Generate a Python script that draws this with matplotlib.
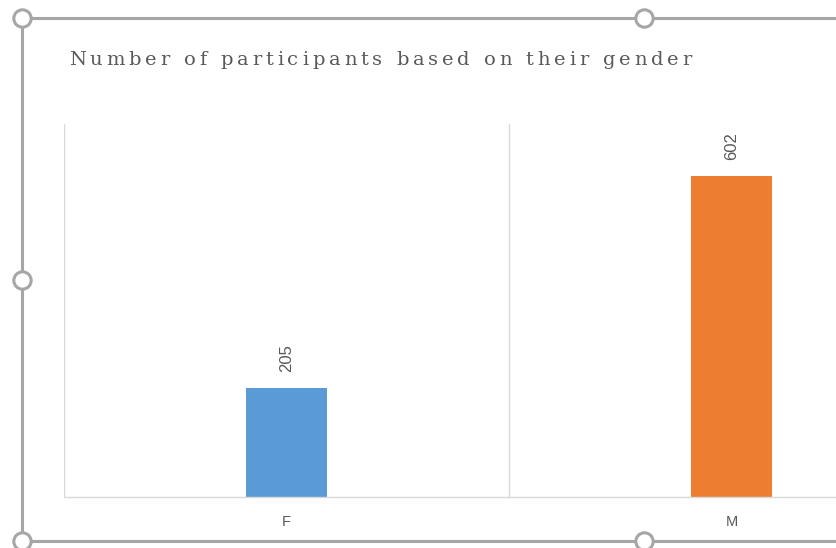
import matplotlib.pyplot as plt
from matplotlib.lines import Line2D
from matplotlib import font_manager
from matplotlib.ft2font import FT2Font

# Participant counts by gender
genders = ['F', 'M']
counts = [205, 602]
bar_colors = ['#5B9BD5', '#ED7D31']
title = 'Number of participants based on their gender'

W, H = 836, 548
fig = plt.figure(figsize=(W / 100, H / 100), dpi=100)
fig.patch.set_facecolor('white')


def fx(x):
    return x / W


def fy(y):
    return 1 - y / H


# plot area (extends past the right edge of the canvas)
left, bottom, top, cat_w = 64, 497, 124, 445
ax = fig.add_axes([fx(left), fy(bottom), fx(2 * cat_w), (bottom - top) / H])
x = range(len(genders))
ax.bar(x, counts, width=81 / cat_w, color=bar_colors, zorder=2)
ax.set_xlim(-0.5, 1.5)
ax.set_ylim(0, 700)
for sep in [-0.5, 0.5, 1.5]:
    ax.axvline(sep, color='#D9D9D9', lw=1, zorder=1)
for s in ['left', 'right', 'top']:
    ax.spines[s].set_visible(False)
ax.spines['bottom'].set_color('#D9D9D9')
ax.spines['bottom'].set_linewidth(1)
ax.set_yticks([])
ax.set_xticks(list(x))
ax.set_xticklabels(genders, fontsize=10.5, color='#595959', family='Liberation Sans')
ax.tick_params(axis='x', length=0, pad=13)
for xi, v in zip(x, counts):
    ax.annotate(str(v), (xi, v), xytext=(0, 16), textcoords='offset pixels',
                rotation=90, ha='center', va='bottom', fontsize=12,
                color='#595959', family='Liberation Sans')

# letter-spaced serif title
tprop = font_manager.FontProperties(family='DejaVu Serif', size=14)
font = FT2Font(font_manager.findfont(tprop))
font.set_size(tprop.get_size_in_points(), 72)
adv = [font.load_char(ord(c)).linearHoriAdvance / 65536 * 100 / 72 for c in title]
x0, x1 = 69, 692
spacing = (x1 - x0 - sum(adv[:-1]) - adv[-1]) / (len(title) - 1)
cx = x0
for c, a in zip(title, adv):
    fig.text(fx(cx), fy(65), c, fontproperties=tprop, color='#595959',
             ha='left', va='baseline')
    cx += a + spacing

# selection frame with handles
frame = '#A6A6A6'
fig.add_artist(Line2D([fx(22), fx(22)], [fy(18), fy(541)], transform=fig.transFigure,
                      color=frame, lw=2.2))
fig.add_artist(Line2D([fx(22), fx(W + 10)], [fy(18), fy(18)], transform=fig.transFigure,
                      color=frame, lw=2.2))
fig.add_artist(Line2D([fx(22), fx(W + 10)], [fy(541), fy(541)], transform=fig.transFigure,
                      color=frame, lw=2.2))
hx = [22, 644, 22, 22, 644]
hy = [18, 18, 280, 541, 541]
fig.add_artist(Line2D([fx(v) for v in hx], [fy(v) for v in hy], transform=fig.transFigure,
                      ls='none', marker='o', markersize=12.5, markerfacecolor='white',
                      markeredgecolor=frame, markeredgewidth=2.2))

fig.savefig('out.png', dpi=100)
